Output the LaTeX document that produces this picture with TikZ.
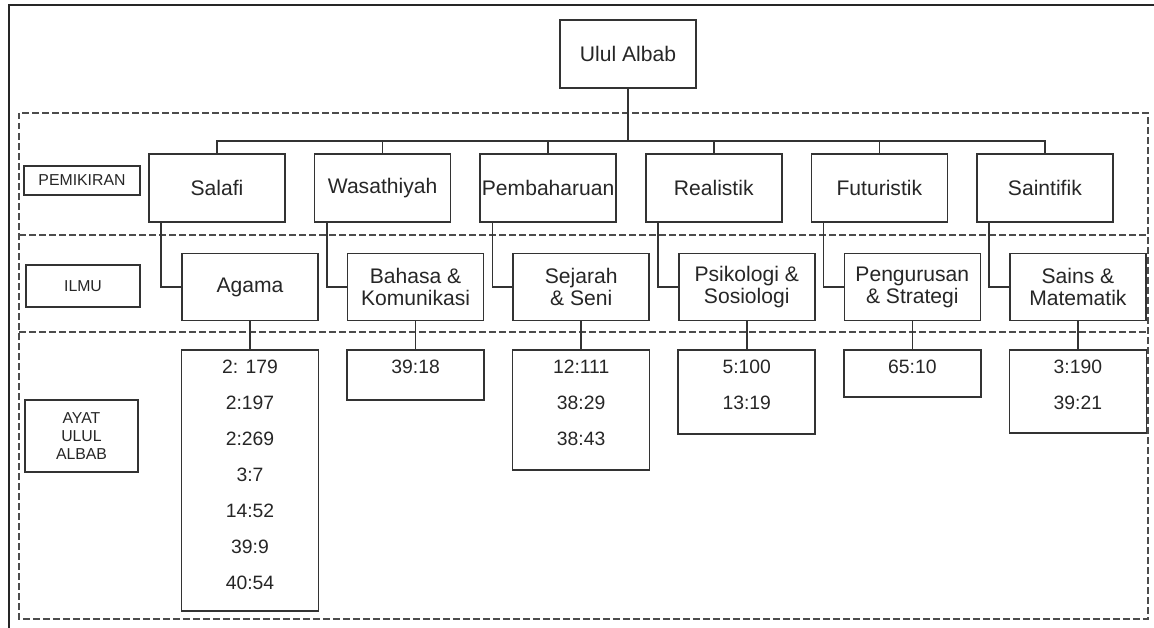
\documentclass[tikz,border=0pt]{standalone}
\usepackage{fontspec}
\setmainfont{Liberation Sans}
\usetikzlibrary{positioning}
\tikzset{
    box/.style={draw=black!80, line width=0.9pt, inner sep=1pt, align=center, text=black!85},
    topic/.style={box, minimum width=2.72cm, minimum height=1.36cm, font=\fontsize{12}{12.5}\selectfont},
    field/.style={box, minimum width=2.72cm, minimum height=1.34cm, font=\fontsize{12}{12.5}\selectfont},
    verses/.style={box, minimum width=2.74cm, anchor=north},
    versetext/.style={inner sep=0pt, align=center, text=black!85, font=\fontsize{11}{20.5}\selectfont},
    rowlabel/.style={box, font=\fontsize{9}{10.2}\selectfont},
    link/.style={draw=black!80, line width=0.9pt},
    zone/.style={draw=black!70, line width=1pt, dash pattern=on 0.13cm off 0.07cm},
    frame/.style={draw=black!85, line width=1.2pt},
}

\begin{document}
\begin{tikzpicture}
    \tikzset{node distance=0.56cm}
    \useasboundingbox (0,0) rectangle (23.08,-12.56);
    \draw[frame] (0.18,-12.56) -- (0.18,-0.1) -- (23.08,-0.1);

    % dashed zones
    \draw[zone] (0.38,-2.26) rectangle (22.96,-12.38);
    \draw[zone] (0.38,-4.70) -- (22.96,-4.70);
    \draw[zone] (0.38,-6.64) -- (22.96,-6.64);

    % row labels
    \node[rowlabel, minimum width=2.32cm, minimum height=0.58cm] (lpemikiran) at (1.64,-3.61) {PEMIKIRAN};
    \node[rowlabel, minimum width=2.28cm, minimum height=0.84cm] (lilmu) at (1.66,-5.72) {ILMU};
    \node[rowlabel, minimum width=2.26cm, minimum height=1.44cm] (layat) at (1.63,-8.72) {AYAT\\ULUL\\ALBAB};

    \node[topic] (ulul) at (12.56,-1.08) {Ulul Albab};

    \node[topic] (salafi) at (4.34,-3.76) {Salafi};
    \node[topic, right=of salafi] (wasathiyah) {Wasathiyah};
    \node[topic, right=of wasathiyah] (pembaharuan) {Pembaharuan};
    \node[topic, right=of pembaharuan] (realistik) {Realistik};
    \node[topic, right=of realistik] (futuristik) {Futuristik};
    \node[topic, right=of futuristik] (saintifik) {Saintifik};

    \node[field, below=0.6cm of salafi, xshift=0.66cm] (agama) {Agama};
    \node[field, below=0.6cm of wasathiyah, xshift=0.66cm] (bahasa) {Bahasa \&\\Komunikasi};
    \node[field, below=0.6cm of pembaharuan, xshift=0.66cm] (sejarah) {Sejarah\\\& Seni};
    \node[field, below=0.6cm of realistik, xshift=0.66cm] (psikologi) {Psikologi \&\\Sosiologi};
    \node[field, below=0.6cm of futuristik, xshift=0.66cm] (pengurusan) {Pengurusan\\\& Strategi};
    \node[field, below=0.6cm of saintifik, xshift=0.66cm] (sains) {Sains \&\\Matematik};

    \node[verses, minimum height=5.22cm, below=0.56cm of agama] (vagama) {};
    \node[versetext, below=0.2cm of vagama.north] (tagama) {2: 179\\2:197\\2:269\\3:7\\14:52\\39:9\\40:54};
    \node[verses, minimum height=1.0cm, below=0.56cm of bahasa] (vbahasa) {};
    \node[versetext, below=0.2cm of vbahasa.north] (tbahasa) {39:18};
    \node[verses, minimum height=2.4cm, below=0.56cm of sejarah] (vsejarah) {};
    \node[versetext, below=0.2cm of vsejarah.north] (tsejarah) {12:111\\38:29\\38:43};
    \node[verses, minimum height=1.68cm, below=0.56cm of psikologi] (vpsikologi) {};
    \node[versetext, below=0.2cm of vpsikologi.north] (tpsikologi) {5:100\\13:19};
    \node[verses, minimum height=0.94cm, below=0.56cm of pengurusan] (vpengurusan) {};
    \node[versetext, below=0.2cm of vpengurusan.north] (tpengurusan) {65:10};
    \node[verses, minimum height=1.66cm, below=0.56cm of sains] (vsains) {};
    \node[versetext, below=0.2cm of vsains.north] (tsains) {3:190\\39:21};

    % tree
    \draw[link] (ulul.south) -- ++(0,-1.04) coordinate (bar);
    \foreach \p in {salafi, wasathiyah, pembaharuan, realistik, futuristik, saintifik}
        \draw[link] (bar) -| (\p.north);
    \foreach \p/\i in {salafi/agama, wasathiyah/bahasa, pembaharuan/sejarah, realistik/psikologi, futuristik/pengurusan, saintifik/sains} {
        \draw[link] ([xshift=0.26cm]\p.south west) |- (\i.west);
        \draw[link] (\i.south) -- (v\i.north);
    }
\end{tikzpicture}
\end{document}
